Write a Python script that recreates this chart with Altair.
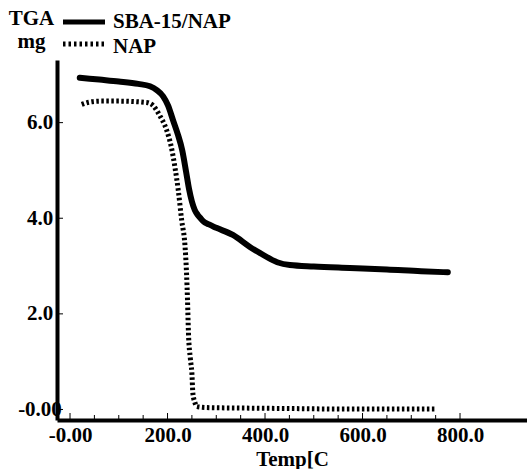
import altair as alt
import pandas as pd

# ---- data ----
SERIES = ["SBA-15/NAP", "NAP"]

SBA_T = [20, 60, 100, 140, 164, 178, 191, 201, 211, 221, 230, 238, 244, 250, 256, 262, 267, 273, 285, 300, 334, 369, 390, 425, 451, 500, 574, 650, 720, 775]
SBA_W = [6.94, 6.90, 6.86, 6.81, 6.76, 6.68, 6.55, 6.36, 6.06, 5.76, 5.43, 4.98, 4.62, 4.35, 4.17, 4.07, 4.01, 3.94, 3.87, 3.80, 3.65, 3.40, 3.27, 3.08, 3.02, 2.99, 2.96, 2.93, 2.89, 2.87]

NAP_T = [24, 40, 62, 100, 157, 170, 185, 198, 209, 215, 222, 229, 236, 239, 241, 243, 247, 250, 252, 256, 260, 280, 350, 450, 550, 650, 749]
NAP_W = [6.38, 6.43, 6.45, 6.45, 6.42, 6.36, 6.13, 5.85, 5.43, 5.08, 4.59, 3.96, 3.40, 2.85, 2.29, 1.59, 1.05, 0.76, 0.34, 0.15, 0.06, 0.04, 0.03, 0.02, 0.01, 0.01, 0.01]

X_MAJOR = [0, 200, 400, 600, 800]
X_MINOR = [50, 100, 150, 250, 300, 350, 450, 500, 550, 650, 700, 750]
Y_MAJOR = [0, 2, 4, 6]

X_DOMAIN = [-26.7, 937.4]
Y_DOMAIN = [-0.22, 7.31]

W_PLOT, H_PLOT = 470, 360
FONT = "Liberation Serif, Times New Roman, serif"
FS = 21

sba = pd.DataFrame({"T": SBA_T, "W": SBA_W})
nap = pd.DataFrame({"T": NAP_T, "W": NAP_W})

x_axis = alt.Axis(
    values=X_MAJOR,
    labelExpr="datum.value == 0 ? '-0.00' : format(datum.value, '.1f')",
    labelFont=FONT, labelFontSize=FS, labelFontWeight="bold", labelColor="black",
    labelPadding=4, labelFlush=False, labelOverlap=False,
    ticks=False, tickSize=0, grid=False,
    domainColor="black", domainWidth=4,
    title="Temp[C", titleFont=FONT, titleFontSize=FS, titleFontWeight="bold",
    titleColor="black", titleBaseline="alphabetic", titleY=45,
)
y_axis = alt.Axis(
    values=Y_MAJOR,
    labelExpr="datum.value == 0 ? '-0.00' : format(datum.value, '.1f')",
    labelFont=FONT, labelFontSize=FS, labelFontWeight="bold", labelColor="black",
    labelAlign="center", labelBaseline="middle", labelPadding=17.5,
    labelFlush=False, labelOverlap=False,
    ticks=False, tickSize=0, grid=False,
    domainColor="black", domainWidth=4,
    title=["TGA", "mg"], titleAngle=0, titleAlign="center", titleBaseline="alphabetic",
    titleX=-26, titleY=-36, titleLineHeight=23,
    titleFont=FONT, titleFontSize=FS, titleFontWeight="bold", titleColor="black",
)


def xenc():
    return alt.X("T:Q", scale=alt.Scale(domain=X_DOMAIN, nice=False, zero=False), axis=x_axis)


def yenc():
    return alt.Y("W:Q", scale=alt.Scale(domain=Y_DOMAIN, nice=False, zero=False), axis=y_axis)


line_sba = alt.Chart(sba).mark_line(
    color="black", strokeWidth=6, strokeCap="round", strokeJoin="round", interpolate="monotone"
).encode(x=xenc(), y=yenc(), order="T:Q")
line_nap = alt.Chart(nap).mark_line(
    color="black", strokeWidth=5, strokeDash=[2.5, 2.5], interpolate="monotone"
).encode(x=xenc(), y=yenc(), order="T:Q")

xmaj = alt.Chart(pd.DataFrame({"T": X_MAJOR})).mark_rule(color="black", strokeWidth=1).encode(
    x=xenc(), y=alt.value(H_PLOT - 7), y2=alt.value(H_PLOT)
)
xmin = alt.Chart(pd.DataFrame({"T": X_MINOR})).mark_rule(color="black", strokeWidth=1).encode(
    x=xenc(), y=alt.value(H_PLOT - 5), y2=alt.value(H_PLOT)
)
ymaj = alt.Chart(pd.DataFrame({"W": Y_MAJOR})).mark_rule(color="black", strokeWidth=1).encode(
    y=yenc(), x=alt.value(0), x2=alt.value(6)
)

# custom legend
leg_df0 = pd.DataFrame({"series": [SERIES[0]]})
leg_df1 = pd.DataFrame({"series": [SERIES[1]]})
leg_line0 = alt.Chart(leg_df0).mark_rule(color="black", strokeWidth=5).encode(
    x=alt.value(6), x2=alt.value(48), y=alt.value(-38)
)
leg_line1 = alt.Chart(leg_df1).mark_rule(color="black", strokeWidth=5, strokeDash=[2.5, 3]).encode(
    x=alt.value(6), x2=alt.value(48), y=alt.value(-16)
)
leg_txt0 = alt.Chart(leg_df0).mark_text(
    font=FONT, fontSize=FS, fontWeight="bold", color="black", align="left", baseline="alphabetic"
).encode(x=alt.value(56), y=alt.value(-32), text="series:N")
leg_txt1 = alt.Chart(leg_df1).mark_text(
    font=FONT, fontSize=FS, fontWeight="bold", color="black", align="left", baseline="alphabetic"
).encode(x=alt.value(56), y=alt.value(-7), text="series:N")

chart = alt.layer(
    line_nap, line_sba, xmaj, xmin, ymaj, leg_line0, leg_line1, leg_txt0, leg_txt1
).properties(
    width=W_PLOT, height=H_PLOT,
    autosize=alt.AutoSizeParams(type="none"),
    padding={"left": 57, "top": 60, "right": 0, "bottom": 49},
    background="white",
).configure_view(stroke=None)

chart.save("out.html", embed_options={"renderer": "svg", "actions": False})
